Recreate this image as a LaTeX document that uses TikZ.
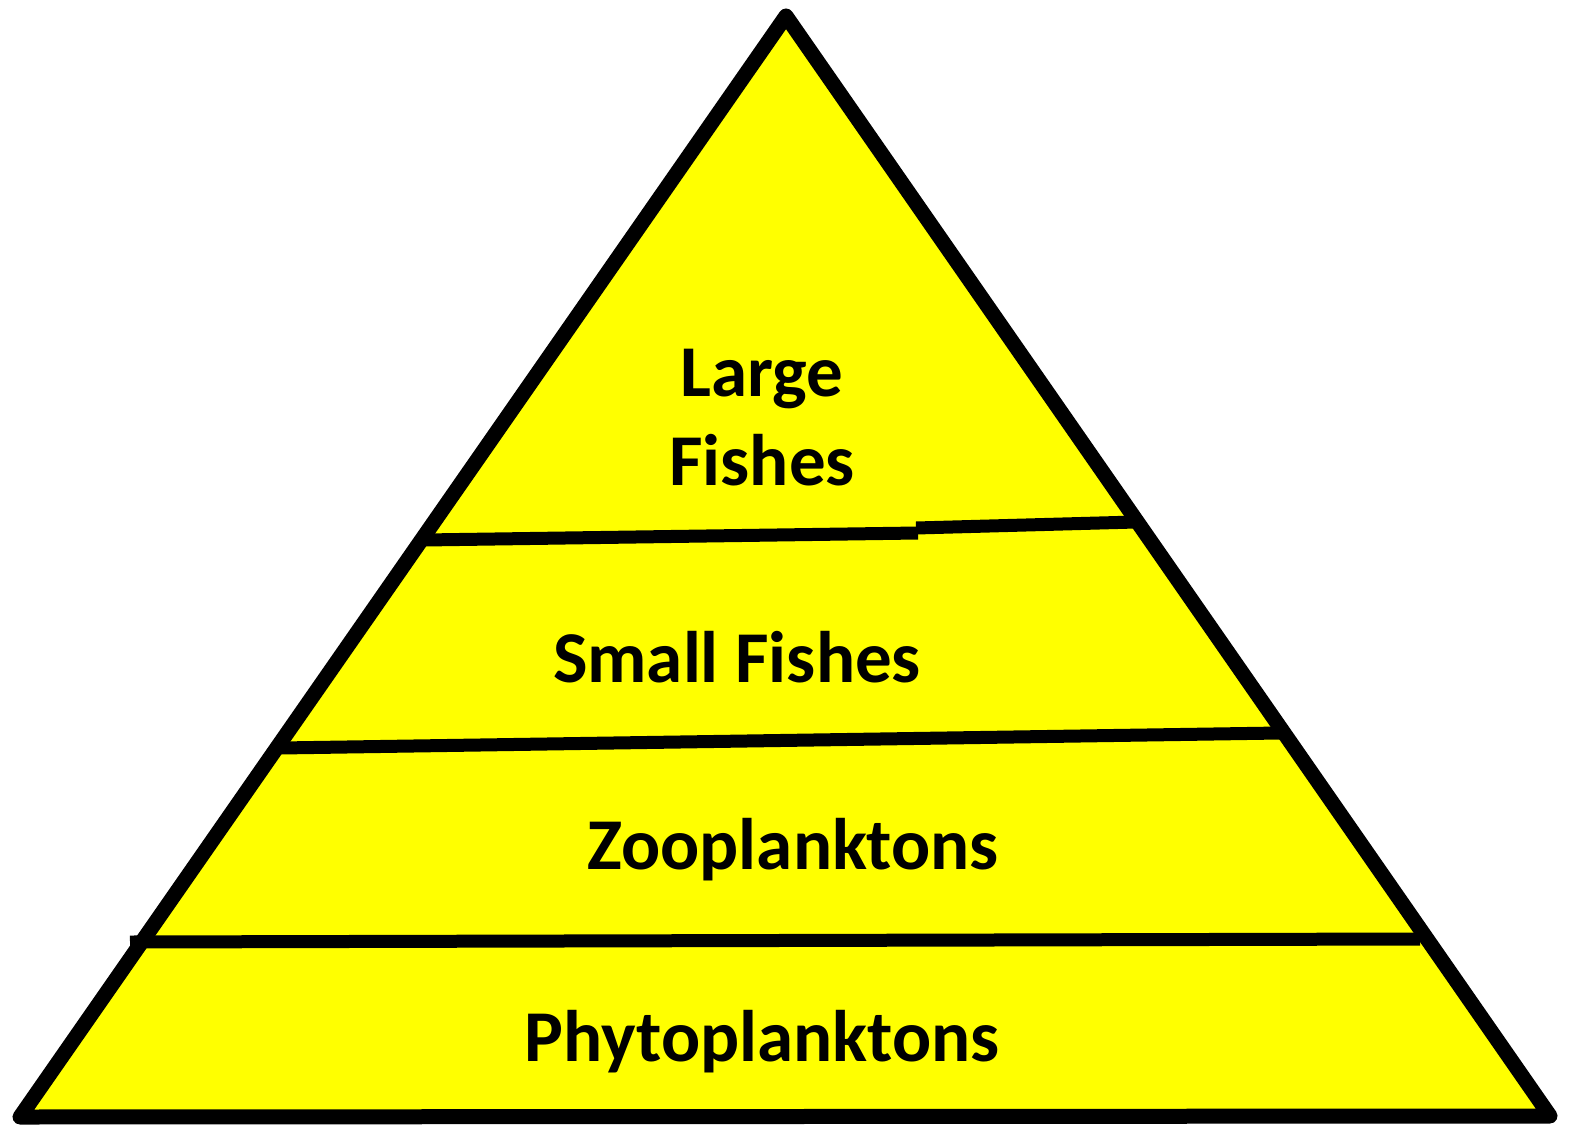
\documentclass[tikz,border=0pt]{standalone}
\usepackage{fontspec}
\setmainfont{Carlito}
\definecolor{pyrfill}{RGB}{255,255,0}
\begin{document}
\begin{tikzpicture}[x=1pt,y=-1pt,
  edge/.style={line width=15pt,line join=round,line cap=round},
  divider/.style={line width=13pt},
  label/.style={font=\fontsize{73}{89}\selectfont\bfseries,align=center,inner sep=0pt}]
\useasboundingbox (0,0) rectangle (1570,1131);
\coordinate (apex) at (786,16);
\coordinate (bl) at (20,1117);
\coordinate (br) at (1550,1116);
\fill[pyrfill] (apex) -- (br) -- (bl) -- cycle;
% dividers
\draw[divider] (424,540) -- (918,533);
\draw[divider] (916,528) -- (1136,522);
\draw[divider] (280,748) -- (1280,733);
\draw[divider] (130,942) -- (1420,939);
\draw[edge] (apex) -- (br) -- (bl) -- cycle;
% labels
\node[label] (large) at (762,418) {Large\\Fishes};
\node[label] (small) at (737,657) {Small Fishes};
\node[label] (zoo) at (793,850) {Zooplanktons};
\node[label] (phyto) at (762,1042) {Phytoplanktons};
\end{tikzpicture}
\end{document}
